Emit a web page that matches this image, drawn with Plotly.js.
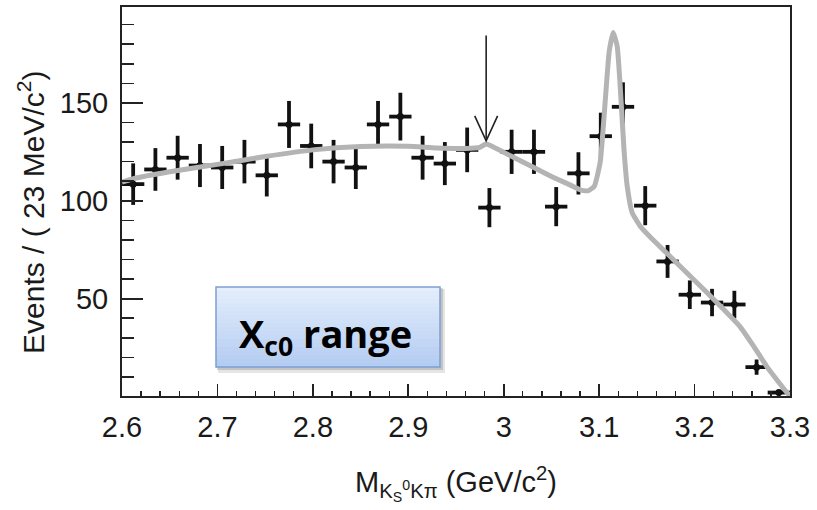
<!DOCTYPE html>
<html>
<head>
<meta charset="utf-8">
<script src="https://cdn.plot.ly/plotly-3.0.1.min.js"></script>
<style>
html,body{margin:0;padding:0;background:#fff;}
#chart{width:817px;height:510px;}
</style>
</head>
<body>
<div id="chart"></div>
<script>
// ---- data ----
const binCenters = [2.6117, 2.635, 2.6583, 2.6817, 2.705, 2.7283, 2.7517, 2.775, 2.7983, 2.8217,
                    2.845, 2.8683, 2.8917, 2.915, 2.9383, 2.9617, 2.985, 3.0083, 3.0317, 3.055,
                    3.0783, 3.1017, 3.125, 3.1483, 3.1717, 3.195, 3.2183, 3.2417, 3.265, 3.2883];
const events = [108.5, 116, 122, 118, 117, 120, 113, 139, 128, 120,
                117, 139, 143, 122, 119, 126, 96.5, 125, 125, 97,
                114, 133, 148, 97.5, 69, 52, 48, 47, 15, 2];
const eventErrors = [10.6, 10.9, 11.2, 11.0, 11.0, 11.1, 10.8, 12.0, 11.4, 11.1,
                     11.0, 12.0, 12.2, 11.2, 11.0, 11.4, 10.0, 11.3, 11.3, 10.0,
                     10.8, 12.0, 12.5, 10.0, 8.4, 7.3, 7.0, 7.0, 3.9, 1.4];
const binHalfWidth = 0.0117;

const fitX = [2.600, 2.612, 2.650, 2.700, 2.750, 2.800, 2.850, 2.900, 2.930, 2.960, 2.975, 2.9816,
              3.007, 3.049, 3.070, 3.082, 3.089, 3.095, 3.1011, 3.1063, 3.1105, 3.1147, 3.1189,
              3.122, 3.1262, 3.1294, 3.1346, 3.143, 3.1535, 3.1776, 3.2132, 3.2478, 3.262, 3.2761, 3.2971, 3.300];
const fitY = [109.5, 111.3, 114.8, 118.6, 122.6, 126.0, 127.7, 127.8, 126.9, 126.7, 127.3, 129.0,
              123.0, 112.7, 108.0, 105.3, 105.2, 107.5, 119.7, 150.5, 176.0, 186.0, 179.0,
              159.0, 125.0, 107.5, 94.0, 87.0, 81.5, 70.0, 53.0, 35.6, 25.6, 15.0, 1.8, 0.4];

const xTickVals = [2.6, 2.7, 2.8, 2.9, 3.0, 3.1, 3.2, 3.3];
const xTickText = ["2.6", "2.7", "2.8", "2.9", "3", "3.1", "3.2", "3.3"];
const yTickVals = [50, 100, 150];
const yTickText = ["50", "100", "150"];

const arrowX = 2.9816, arrowTop = 184.5, arrowTip = 130.6;
const labelText = "<b>X<sub>c0</sub> range</b>";
const xTitle = 'M<sub>K<sub>S</sub><sup>0</sup>Kπ</sub> (GeV/c<sup>2</sup>)';
const yTitle = 'Events / ( 23 MeV/c<sup>2</sup>)';

// ---- layout helpers ----
const W = 817, H = 510;
const M = {l: 122, r: 27, t: 7, b: 114};
const pw = W - M.l - M.r, ph = H - M.t - M.b;
const pxX = p => (p - M.l) / pw;
const pxY = p => (H - M.b - p) / ph;

const FONT = "'Liberation Sans', Arial, Helvetica, sans-serif";

const points = {
  x: binCenters, y: events, type: 'scatter', mode: 'markers',
  marker: {color: '#111', size: 7, symbol: 'circle'},
  error_y: {type: 'data', array: eventErrors, visible: true, color: '#111', thickness: 3.8, width: 0},
  error_x: {type: 'constant', value: binHalfWidth, visible: true, color: '#111', thickness: 3.8, width: 0},
  hoverinfo: 'skip', showlegend: false
};
const fit = {
  x: fitX, y: fitY, type: 'scatter', mode: 'lines',
  line: {color: '#b4b4b4', width: 5, shape: 'spline', smoothing: 0.45},
  hoverinfo: 'skip', showlegend: false
};

// label box (shadow + gradient stripes + border)
const box = {x0: 216, x1: 440, y0: 287, y1: 367};
const shapes = [];
shapes.push({type: 'rect', xref: 'paper', yref: 'paper', layer: 'above',
  x0: pxX(box.x0 + 2), x1: pxX(box.x1 + 5), y0: pxY(box.y1 + 6), y1: pxY(box.y0 + 2),
  fillcolor: 'rgba(0,0,0,0.10)', line: {width: 0}});
shapes.push({type: 'rect', xref: 'paper', yref: 'paper', layer: 'above',
  x0: pxX(box.x0 + 1), x1: pxX(box.x1 + 3), y0: pxY(box.y1 + 3), y1: pxY(box.y0 + 1),
  fillcolor: 'rgba(0,0,0,0.14)', line: {width: 0}});
const nStripe = 20;
const cTop = [228, 238, 252], cBot = [180, 204, 242];
for (let i = 0; i < nStripe; i++) {
  const t = i / (nStripe - 1);
  const c = cTop.map((v, k) => Math.round(v + (cBot[k] - v) * t));
  const y0 = box.y0 + (box.y1 - box.y0) * i / nStripe;
  const y1 = box.y0 + (box.y1 - box.y0) * (i + 1) / nStripe;
  shapes.push({type: 'rect', xref: 'paper', yref: 'paper', layer: 'above',
    x0: pxX(box.x0), x1: pxX(box.x1), y0: pxY(y1 + 0.5), y1: pxY(y0),
    fillcolor: `rgb(${c[0]},${c[1]},${c[2]})`, line: {width: 0}});
}
shapes.push({type: 'rect', xref: 'paper', yref: 'paper', layer: 'above',
  x0: pxX(box.x0), x1: pxX(box.x1), y0: pxY(box.y1), y1: pxY(box.y0),
  fillcolor: 'rgba(0,0,0,0)', line: {color: '#7c9fd2', width: 1.5}});

// arrow
shapes.push({type: 'line', xref: 'x', yref: 'y', x0: arrowX, x1: arrowX, y0: arrowTop, y1: arrowTip,
  line: {color: '#222', width: 1.6}});
shapes.push({type: 'path', xref: 'x', yref: 'y',
  path: `M ${arrowX - 0.012},${arrowTip + 12.8} L ${arrowX},${arrowTip} L ${arrowX + 0.012},${arrowTip + 12.8}`,
  line: {color: '#222', width: 1.6}});

const layout = {
  width: W, height: H,
  margin: M,
  paper_bgcolor: '#fff', plot_bgcolor: '#fff',
  font: {family: FONT, color: '#1a1a1a'},
  xaxis: {
    range: [2.6, 3.3], tickmode: 'array', tickvals: xTickVals, ticktext: xTickText,
    ticks: 'inside', ticklen: 12, tickwidth: 1.6, tickcolor: '#222',
    minor: {tickmode: 'linear', tick0: 2.6, dtick: 0.02, ticks: 'inside', ticklen: 5, tickwidth: 1.4, tickcolor: '#222', showgrid: false},
    showline: true, linecolor: '#222', linewidth: 2, mirror: true,
    showgrid: false, zeroline: false,
    tickfont: {family: FONT, size: 29, color: '#1a1a1a'},
    ticklabelstandoff: 4,
    title: {text: xTitle, font: {family: FONT, size: 29, color: '#1a1a1a'}, standoff: 30}
  },
  yaxis: {
    range: [0.25, 199], tickmode: 'array', tickvals: yTickVals, ticktext: yTickText,
    ticks: 'inside', ticklen: 21, tickwidth: 1.8, tickcolor: '#222',
    minor: {tickmode: 'linear', tick0: 0, dtick: 10, ticks: 'inside', ticklen: 12, tickwidth: 1.6, tickcolor: '#222', showgrid: false},
    showline: true, linecolor: '#222', linewidth: 2, mirror: true,
    showgrid: false, zeroline: false,
    tickfont: {family: FONT, size: 29, color: '#1a1a1a'},
    ticklabelstandoff: 6
  },
  shapes: shapes,
  annotations: [{
    xref: 'paper', yref: 'paper', x: pxX(325), y: pxY(335), xanchor: 'center', yanchor: 'middle',
    text: labelText, showarrow: false,
    font: {family: "'Open Sans', sans-serif", size: 38, color: '#000'}
  }, {
    xref: 'paper', yref: 'paper', x: pxX(31), y: pxY(213), xanchor: 'center', yanchor: 'middle',
    text: yTitle, textangle: -90, showarrow: false,
    font: {family: FONT, size: 30, color: '#1a1a1a'}
  }]
};

Plotly.newPlot('chart', [points, fit], layout, {staticPlot: true, displayModeBar: false});
</script>
</body>
</html>
